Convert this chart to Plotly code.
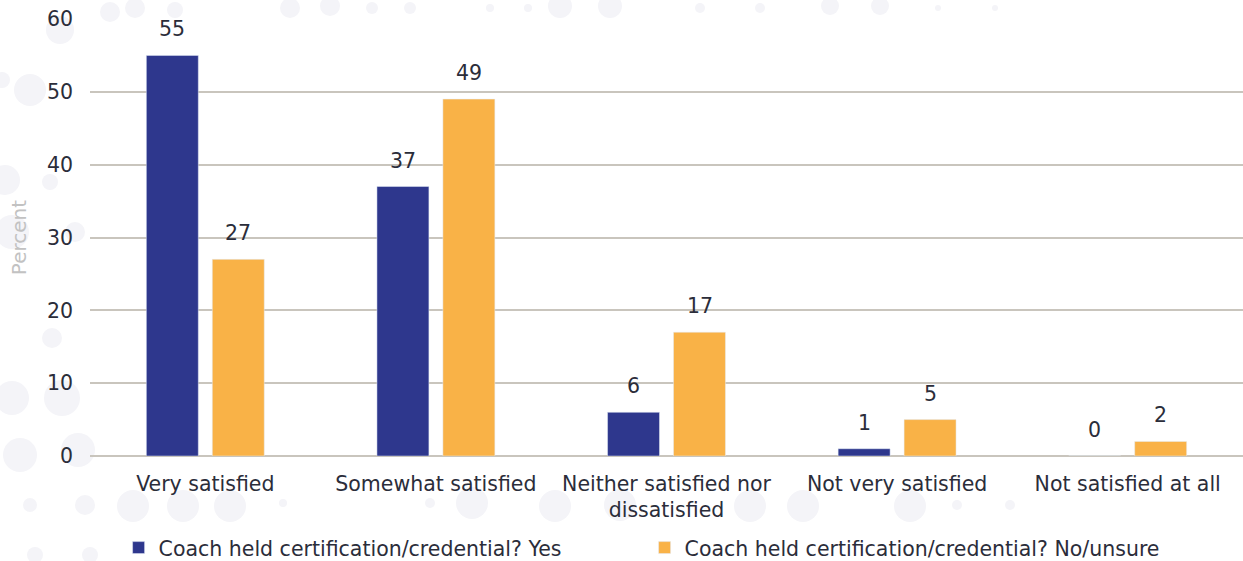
import plotly.graph_objects as go

categories = ["Very satisfied", "Somewhat satisfied", "Neither satisfied nor<br>dissatisfied",
              "Not very satisfied", "Not satisfied at all"]
yes_vals = [55, 37, 6, 1, 0]
no_vals = [27, 49, 17, 5, 2]
series_names = ["Coach held certification/credential? Yes",
                "Coach held certification/credential? No/unsure"]
y_ticks = [0, 10, 20, 30, 40, 50, 60]

FONT = "DejaVu Sans"
TXT = "#2b2d3a"
BLUE = "#2E378D"
ORANGE = "#F9B247"
FS = 20.5

fig = go.Figure()
fig.add_trace(go.Bar(x=categories, y=yes_vals, name=series_names[0], marker_color=BLUE))
fig.add_trace(go.Bar(x=categories, y=no_vals, name=series_names[1], marker_color=ORANGE))

# value labels above bars
for vals, shift in ((yes_vals, -33), (no_vals, 33)):
    for c, v in zip(categories, vals):
        fig.add_annotation(x=c, y=v, text=str(v), showarrow=False, xshift=shift,
                           yshift=26, font=dict(size=FS, color=TXT, family=FONT))

# faint decorative background dots (pixel centre x, y, radius) in the margins
PL, PB, PW, PH = 90, 456, 1153, 437
deco = [(5, 180, 15), (50, 182, 8), (12, 232, 17), (75, 232, 10), (52, 338, 10),
        (12, 398, 17), (62, 398, 18), (20, 455, 17), (78, 450, 17), (30, 505, 7),
        (85, 505, 10), (35, 555, 8), (90, 555, 8), (133, 506, 16), (183, 506, 16),
        (230, 506, 16), (283, 503, 4), (430, 503, 5), (472, 503, 16), (555, 506, 16),
        (620, 505, 16), (750, 506, 16), (803, 506, 16), (910, 506, 16), (957, 505, 5),
        (1010, 505, 5), (30, 90, 16), (60, 30, 14), (2, 80, 8), (110, 12, 10), (135, 8, 10),
        (175, 10, 8), (290, 8, 10), (330, 6, 10), (372, 8, 6), (410, 8, 6), (490, 8, 4),
        (528, 8, 4), (560, 6, 12), (610, 6, 12), (700, 8, 5), (760, 8, 5), (830, 6, 9),
        (880, 6, 9), (938, 8, 3), (995, 8, 3)]
for cx, cy, r in deco:
    fig.add_shape(type="circle", xref="paper", yref="paper", layer="below",
                  x0=(cx - r - PL) / PW, x1=(cx + r - PL) / PW,
                  y0=(PB - cy - r) / PH, y1=(PB - cy + r) / PH,
                  fillcolor="#f4f4f8", line_width=0)

fig.update_layout(
    width=1243, height=561,
    margin=dict(l=90, r=0, t=19, b=105, autoexpand=False),
    paper_bgcolor="white", plot_bgcolor="white",
    barmode="group", bargap=0.428, bargroupgap=0.212,
    font=dict(family=FONT, size=FS, color=TXT),
    showlegend=True,
    legend=dict(orientation="h", x=0.481, xanchor="center", y=-0.21, yanchor="middle",
                font=dict(size=FS, color=TXT, family=FONT), bgcolor="rgba(0,0,0,0)",
                traceorder="normal", entrywidth=481),
)
fig.update_xaxes(showgrid=False, showline=False, ticks="", automargin=False,
                 tickfont=dict(size=FS, color=TXT), ticklabelstandoff=13)
fig.update_yaxes(range=[0, 60], tickvals=y_ticks, showgrid=True, gridcolor="#c9c5bd", gridwidth=2,
                 zeroline=True, zerolinecolor="#c9c5bd", zerolinewidth=2, automargin=False,
                 tickfont=dict(size=FS, color=TXT), ticks="", ticklabelstandoff=16,
                 title=dict(text="Percent", font=dict(size=20, color="#c2c2c2"), standoff=14))

fig.write_html("out.html")
